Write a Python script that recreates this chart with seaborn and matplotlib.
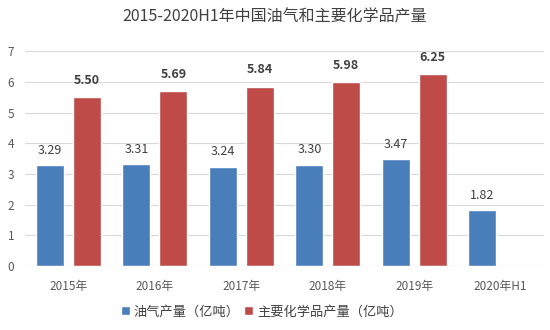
import numpy as np
import pandas as pd
import seaborn as sns
import matplotlib.pyplot as plt

years = ["2015年", "2016年", "2017年", "2018年", "2019年", "2020年H1"]
oil_gas = [3.29, 3.31, 3.24, 3.30, 3.47, 1.82]
chemicals = [5.50, 5.69, 5.84, 5.98, 6.25, np.nan]
series_names = ["油气产量（亿吨）", "主要化学品产量（亿吨）"]
colors = ["#4a7ebb", "#be4b48"]

sns.set_theme(style="white")
plt.rcParams["font.family"] = ["Noto Sans CJK SC", "DejaVu Sans"]

df = pd.DataFrame({
    "year": years * 2,
    "value": oil_gas + chemicals,
    "series": [series_names[0]] * len(years) + [series_names[1]] * len(years),
})

fig = plt.figure(figsize=(5.5, 3.3), dpi=100)
ax = fig.add_axes([0.046, 0.194, 0.943, 0.651])
sns.barplot(data=df, x="year", y="value", hue="series", palette=colors,
            width=0.856, gap=0.243, ax=ax, saturation=1, legend=True)

ax.set_ylim(0, 7)
ax.set_yticks(range(0, 8))
ax.yaxis.grid(True, color="#d9d9d9", linewidth=0.8)
ax.set_axisbelow(True)
for s in ax.spines.values():
    s.set_visible(False)
ax.axhline(0, color="#d9d9d9", linewidth=0.8)
ax.tick_params(axis="y", length=0, colors="#595959", labelsize=8.5, pad=8)
ax.tick_params(axis="x", length=0, colors="#595959", labelsize=8.5, pad=10)
ax.set_xlabel("")
ax.set_ylabel("")
ax.set_xlim(-0.5, len(years) - 0.5)

# value labels above each bar
for i, cont in enumerate(ax.containers):
    for patch in cont.patches:
        if patch is None:
            continue
        h = patch.get_height()
        if not np.isfinite(h):
            continue
        ax.annotate(f"{h:.2f}", (patch.get_x() + patch.get_width() / 2, h),
                    xytext=(0, 6 if i == 0 else 7.5), textcoords="offset points",
                    ha="center", va="bottom", fontsize=9, color="#404040",
                    fontweight="normal" if i == 0 else "bold")

handles, labs = ax.get_legend_handles_labels()
ax.get_legend().remove()
fig.legend(handles, labs, loc="center", bbox_to_anchor=(0.476, 0.055),
           ncol=2, frameon=False, fontsize=9.5, handlelength=0.7, handleheight=0.7,
           handletextpad=0.3, columnspacing=0.3, labelcolor="#404040")

fig.suptitle("2015-2020H1年中国油气和主要化学品产量", y=0.975, fontsize=11.5,
             color="#404040")

fig.savefig("out.png", dpi=100)
